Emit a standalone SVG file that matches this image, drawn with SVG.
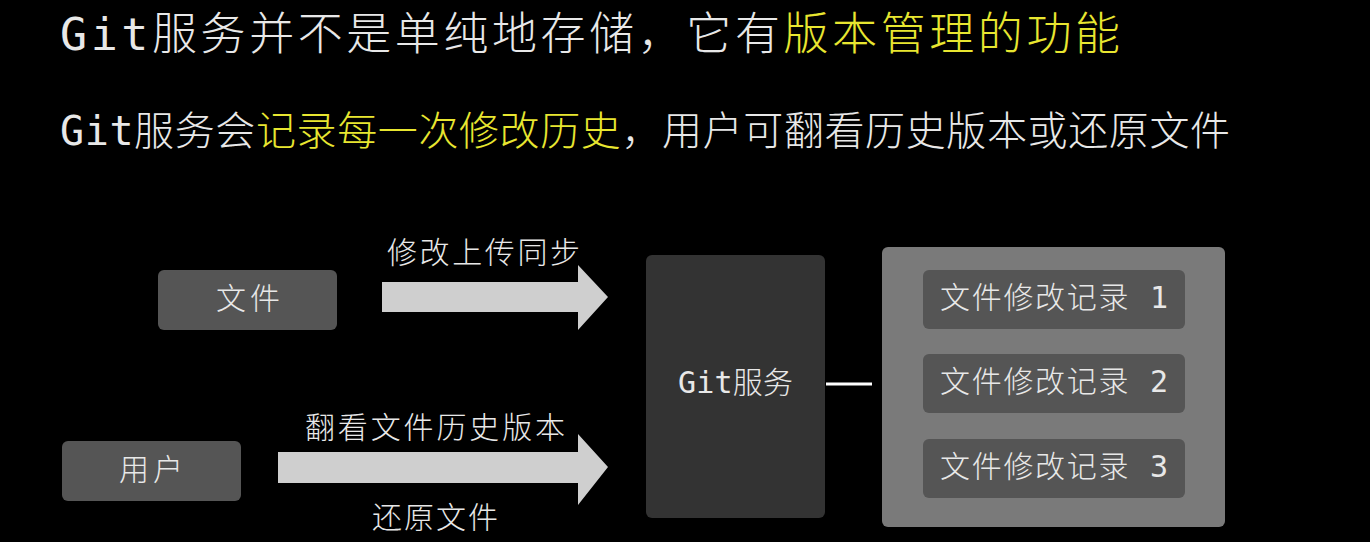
<svg xmlns="http://www.w3.org/2000/svg" width="1370" height="542" viewBox="0 0 1370 542">
<style>
text{font-family:"DejaVu Sans Mono","Noto Sans CJK SC",sans-serif;fill:#e8e8e8;font-weight:300}
.y{fill:#e8e630}
.n{fill:#555;}
.c{font-size:30px}
.a{fill:#cfcfcf}
</style>
<rect width="1370" height="542" fill="#000"/>
<text x="60" y="50" font-size="45" textLength="1060" lengthAdjust="spacing">Git服务并不是单纯地存储，它有<tspan class="y">版本管理的功能</tspan></text>
<text x="60" y="145" font-size="40" textLength="1170" lengthAdjust="spacing">Git服务会<tspan class="y">记录每一次修改历史</tspan>，用户可翻看历史版本或还原文件</text>
<g id="file"><rect class="n" x="158" y="270" width="179" height="60" rx="6"/><text class="c" x="216" y="309" textLength="64">文件</text></g>
<g id="user"><rect class="n" x="62" y="441" width="179" height="60" rx="6"/><text class="c" x="119" y="480" textLength="64">用户</text></g>
<g id="git"><rect fill="#333" x="646" y="255" width="179" height="263" rx="6"/><text class="c" x="678" y="393" textLength="115">Git服务</text></g>
<g id="records"><rect fill="#7a7a7a" x="882" y="247" width="343" height="280" rx="6"/>
<g id="r1"><rect class="n" x="923" y="270" width="262" height="59" rx="6"/><text class="c" x="940" y="308" textLength="228">文件修改记录 1</text></g>
<g id="r2"><rect class="n" x="923" y="354" width="262" height="59" rx="6"/><text class="c" x="940" y="392" textLength="228">文件修改记录 2</text></g>
<g id="r3"><rect class="n" x="923" y="439" width="262" height="59" rx="6"/><text class="c" x="940" y="477" textLength="228">文件修改记录 3</text></g>
</g>
<g id="connectors">
<polygon class="a" points="382,282 578,282 578,265 608,297 578,330 578,312 382,312"/>
<polygon class="a" points="278,452 578,452 578,434 608,467 578,505 578,483 278,483"/>
<line x1="826" y1="384" x2="872" y2="384" stroke="#fff" stroke-width="3"/>
<text class="c" x="387" y="263" textLength="193">修改上传同步</text>
<text class="c" x="305" y="438" textLength="260">翻看文件历史版本</text>
<text class="c" x="372" y="528" textLength="126">还原文件</text>
</g>
</svg>
